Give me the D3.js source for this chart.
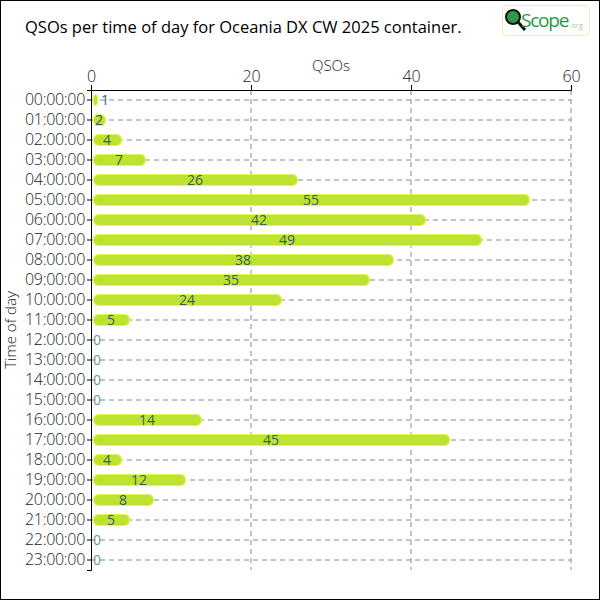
<!DOCTYPE html>
<html><head><meta charset="utf-8">
<script src="https://cdn.jsdelivr.net/npm/d3@7"></script>
<style>
body{margin:0;background:#fff;}
text{font-family:"Open Sans","DejaVu Sans",sans-serif;}
</style></head>
<body><div id="chart"></div>
<script>
const hours = ["00:00:00","01:00:00","02:00:00","03:00:00","04:00:00","05:00:00","06:00:00","07:00:00","08:00:00","09:00:00","10:00:00","11:00:00","12:00:00","13:00:00","14:00:00","15:00:00","16:00:00","17:00:00","18:00:00","19:00:00","20:00:00","21:00:00","22:00:00","23:00:00"];
const qsos = [1,2,4,7,26,55,42,49,38,35,24,5,0,0,0,0,14,45,4,12,8,5,0,0];
const xTicks = [0,20,40,60];
const title = "QSOs per time of day for Oceania DX CW 2025 container.";

const W=600,H=600;
const svg=d3.select("#chart").append("svg").attr("width",W).attr("height",H);
svg.append("rect").attr("x",0.5).attr("y",0.5).attr("width",W-1).attr("height",H-1).attr("fill","#fff").attr("stroke","#000");

const m={l:91,r:29,t:90,b:30};
const x=d3.scaleLinear().domain([0,60]).range([m.l,W-m.r]);
const y=d3.scaleBand().domain(hours).range([m.t,H-m.b]);

svg.append("text").attr("x",25).attr("y",33).attr("font-size",16.5).attr("font-weight",400).attr("fill","#000").text(title);

// grid vertical
svg.append("g").selectAll("line").data(xTicks.filter(d=>d>0)).join("line")
 .attr("x1",d=>x(d)).attr("x2",d=>x(d)).attr("y1",m.t).attr("y2",H-m.b)
 .attr("stroke","#888").attr("stroke-dasharray","5,4");
// grid horizontal
svg.append("g").selectAll("line").data(hours).join("line")
 .attr("x1",x(0)).attr("x2",x(60)).attr("y1",d=>y(d)+y.bandwidth()/2).attr("y2",d=>y(d)+y.bandwidth()/2)
 .attr("stroke","#888").attr("stroke-dasharray","5,4");

// bars
const bh=11;
svg.append("g").selectAll("rect").data(hours).join("rect")
 .attr("x",x(0)+2.5).attr("y",(d)=>y(d)+y.bandwidth()/2-bh/2)
 .attr("width",(d,i)=>Math.max(0,x(qsos[i])-x(0)-4))
 .attr("height",bh).attr("rx",5).attr("ry",5)
 .attr("fill","#bde22f").attr("stroke","#e3f75c").attr("stroke-width",1.2);

// labels
svg.append("g").selectAll("text").data(hours).join("text")
 .attr("x",(d,i)=>qsos[i]<2? x(qsos[i])+2 : (x(0)+x(qsos[i]))/2)
 .attr("text-anchor",(d,i)=>qsos[i]<2?"start":"middle")
 .attr("y",d=>y(d)+y.bandwidth()/2+5)
 .attr("font-size",14).attr("font-weight",400)
 .attr("fill",(d,i)=>qsos[i]===0?"#6a9a9a":"#35605f")
 .text((d,i)=>qsos[i]);

// axes
const xa=svg.append("g").attr("transform",`translate(0,${m.t})`).call(d3.axisTop(x).tickValues(xTicks).tickSize(5).tickPadding(3));
xa.selectAll("text").attr("font-size",16).attr("font-weight",300).attr("fill","#222");
xa.select(".domain").attr("stroke","#000");
const ya=svg.append("g").attr("transform",`translate(${m.l},0)`).call(d3.axisLeft(y).tickSize(4).tickPadding(2));
ya.selectAll("text").attr("font-size",16).attr("font-weight",300).attr("fill","#222").attr("letter-spacing",-0.3);
ya.select(".domain").attr("stroke","#000");

svg.append("text").attr("x",(x(0)+x(60))/2).attr("y",71).attr("text-anchor","middle").attr("font-size",15).attr("font-weight",300).attr("fill","#222").text("QSOs");
svg.append("text").attr("transform",`translate(16,${(m.t+H-m.b)/2}) rotate(-90)`).attr("text-anchor","middle").attr("font-size",15).attr("font-weight",300).attr("fill","#222").text("Time of day");

// logo
const lg=svg.append("g");
lg.append("rect").attr("x",502.5).attr("y",5.5).attr("width",87).attr("height",30).attr("rx",4).attr("fill","#fff").attr("stroke","#e8f0c0");
lg.append("circle").attr("cx",513).attr("cy",17).attr("r",7).attr("fill","#2e9a4a").attr("stroke","#111").attr("stroke-width",2);
lg.append("line").attr("x1",518).attr("y1",22).attr("x2",525).attr("y2",30).attr("stroke","#111").attr("stroke-width",3);
lg.append("text").attr("x",521).attr("y",27).attr("font-size",19).attr("font-weight",500).attr("fill","#1e9a3e").attr("font-family","Roboto Condensed, Roboto, sans-serif").attr("letter-spacing",-1.2).text("Scope");
lg.append("text").attr("x",570).attr("y",28).attr("font-size",7).attr("fill","#9ac98a").text(".org");
</script></body></html>
